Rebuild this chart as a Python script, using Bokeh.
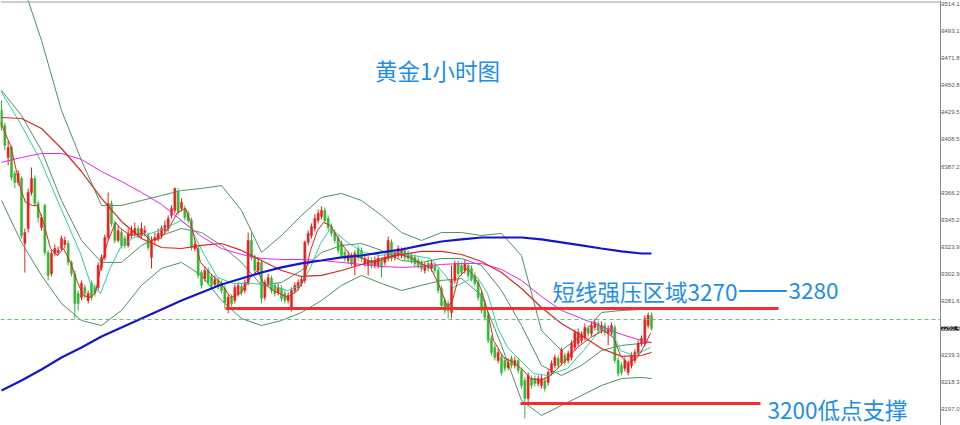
from bokeh.plotting import figure
from bokeh.models import Range1d, Span, Label
from bokeh.core.properties import value
from bokeh.embed import file_html
from bokeh.resources import INLINE

# ---------------- data ----------------
opens = [3431.1,3419.3,3394.3,3402.1,3381.8,3374.7,3377.8,3327.0,3338.7,3366.9,
         3377.8,3358.2,3339.5,3356.7,3319.9,3303.4,3319.1,3319.9,3323.0,3326.2,
         3327.0,3312.1,3303.4,3287.8,3284.7,3292.5,3282.3,3295.6,3292.5,3292.5,
         3308.2,3316.0,3331.6,3358.2,3342.6,3329.3,3335.5,3330.9,3325.4,3333.2,
         3334.8,3338.7,3333.2,3335.5,3333.2,3316.0,3329.3,3330.9,3333.2,3337.1,
         3338.7,3348.9,3352.8,3366.9,3354.4,3354.4,3350.5,3344.9,3323.0,3323.0,
         3304.2,3299.5,3305.8,3301.1,3294.8,3298.0,3295.6,3291.7,3276.8,3284.7,
         3282.3,3287.8,3293.3,3290.1,3296.4,3329.3,3316.0,3305.8,3312.1,3284.7,
         3295.6,3299.5,3294.1,3288.6,3291.7,3287.8,3282.3,3276.8,3290.1,3292.5,
         3295.6,3298.0,3327.8,3333.2,3338.7,3344.9,3348.1,3352.8,3346.5,3340.2,
         3335.5,3330.9,3327.0,3319.9,3313.6,3317.5,3309.7,3323.0,3321.5,3311.3,
         3309.7,3313.6,3309.7,3309.7,3313.6,3312.1,3315.2,3327.8,3316.0,3317.5,
         3317.5,3321.5,3319.1,3317.5,3316.0,3313.6,3311.3,3305.8,3311.3,3307.4,
         3309.7,3305.8,3291.7,3282.3,3279.9,3272.9,3298.0,3311.3,3309.7,3305.8,
         3309.7,3307.4,3301.9,3296.4,3287.8,3279.9,3270.6,3252.6,3245.5,3235.3,
         3237.7,3235.3,3229.8,3236.9,3231.4,3235.3,3227.5,3219.7,3205.6,3221.2,
         3221.2,3217.3,3215.7,3219.7,3218.1,3225.9,3231.4,3236.9,3233.8,3239.2,
         3235.3,3237.7,3245.5,3248.7,3251.0,3253.3,3260.4,3256.5,3261.2,3264.3,
         3258.8,3262.7,3256.5,3257.2,3261.2,3235.3,3231.4,3229.1,3225.9,3231.4,
         3235.3,3241.6,3248.7,3248.7,3262.7,3270.6]
closes = [3417.7,3403.7,3402.1,3378.6,3374.7,3381.8,3333.2,3335.5,3366.9,3377.8,
          3358.2,3347.3,3347.3,3319.9,3301.9,3319.1,3323.0,3321.5,3330.9,3329.3,
          3312.1,3303.4,3279.9,3279.9,3295.6,3287.8,3287.8,3284.7,3287.8,3309.7,
          3316.0,3331.6,3358.2,3342.6,3329.3,3337.1,3325.4,3325.4,3334.8,3337.1,
          3338.7,3333.2,3338.7,3337.1,3323.8,3329.3,3331.6,3334.8,3338.7,3341.0,
          3346.5,3354.4,3370.0,3351.2,3359.1,3347.3,3344.9,3323.8,3326.2,3301.9,
          3294.1,3305.8,3296.4,3294.1,3298.7,3293.3,3290.1,3280.7,3284.7,3279.9,
          3292.5,3294.1,3288.6,3296.4,3329.3,3316.0,3305.8,3312.1,3283.9,3296.4,
          3300.3,3290.1,3287.8,3292.5,3283.9,3282.3,3286.2,3290.1,3294.1,3296.4,
          3298.7,3327.8,3334.8,3340.2,3346.5,3350.5,3352.8,3344.9,3339.5,3334.8,
          3329.3,3321.5,3317.5,3315.2,3317.5,3311.3,3319.1,3316.0,3315.2,3315.2,
          3313.6,3309.7,3313.6,3315.2,3308.2,3316.0,3329.3,3315.2,3319.9,3323.0,
          3321.5,3316.0,3315.2,3313.6,3311.3,3309.7,3307.4,3309.7,3307.4,3311.3,
          3305.8,3290.1,3278.4,3274.5,3274.5,3298.0,3311.3,3303.4,3304.2,3311.3,
          3301.9,3299.5,3295.6,3284.7,3274.5,3269.0,3251.0,3241.6,3237.7,3241.6,
          3225.9,3229.1,3233.8,3231.4,3235.3,3227.5,3215.7,3205.6,3223.6,3215.7,
          3217.3,3221.2,3221.2,3213.4,3225.9,3233.0,3237.7,3231.4,3243.1,3233.8,
          3240.8,3248.7,3257.2,3257.2,3254.9,3261.2,3256.5,3262.7,3265.1,3258.8,
          3262.7,3257.2,3260.4,3262.7,3235.3,3225.1,3225.9,3235.3,3233.0,3239.2,
          3241.6,3248.7,3252.6,3268.2,3270.6,3260.4]
highs = [3438.9,3421.6,3407.6,3403.7,3384.1,3384.1,3379.4,3338.7,3370.0,3386.4,
         3380.2,3360.6,3349.7,3358.2,3321.5,3321.5,3326.2,3324.6,3333.2,3332.4,
         3329.3,3313.6,3305.8,3290.1,3298.0,3294.8,3290.1,3298.0,3294.8,3312.1,
         3318.3,3334.0,3366.9,3360.6,3344.9,3341.0,3337.9,3333.2,3338.7,3341.0,
         3343.4,3341.0,3343.4,3341.0,3335.5,3332.4,3335.5,3338.7,3341.0,3344.9,
         3348.9,3356.7,3370.8,3370.0,3362.2,3356.7,3352.8,3347.3,3329.3,3325.4,
         3305.8,3308.9,3308.2,3303.4,3301.9,3300.3,3298.0,3294.1,3287.0,3287.0,
         3294.8,3296.4,3295.6,3298.7,3335.5,3335.5,3318.3,3315.2,3314.4,3298.7,
         3303.4,3301.9,3296.4,3295.6,3294.1,3290.1,3288.6,3292.5,3296.4,3298.7,
         3301.1,3329.3,3337.1,3342.6,3349.7,3353.6,3356.0,3355.2,3348.9,3342.6,
         3337.9,3333.2,3329.3,3322.2,3320.7,3319.9,3321.5,3325.4,3323.8,3317.5,
         3316.8,3316.0,3316.8,3318.3,3316.0,3319.1,3332.4,3330.1,3322.2,3325.4,
         3323.8,3323.8,3321.5,3319.9,3318.3,3316.0,3313.6,3312.1,3313.6,3313.6,
         3312.1,3308.2,3294.1,3284.7,3282.3,3309.7,3313.6,3313.6,3312.1,3314.4,
         3312.1,3309.7,3304.2,3298.7,3290.1,3282.3,3272.9,3254.9,3247.9,3244.7,
         3240.0,3237.7,3236.9,3239.2,3238.4,3237.7,3229.8,3222.0,3225.9,3223.6,
         3223.6,3223.6,3224.4,3222.0,3228.3,3235.3,3240.0,3239.2,3245.5,3241.6,
         3243.1,3251.0,3259.6,3260.4,3258.0,3264.3,3262.7,3265.9,3268.2,3266.6,
         3265.9,3265.1,3262.7,3265.1,3263.5,3237.7,3233.8,3237.7,3235.3,3241.6,
         3244.0,3251.0,3254.9,3270.6,3272.9,3272.9]
lows = [3415.4,3399.8,3388.0,3376.3,3370.0,3372.3,3330.9,3304.2,3335.5,3364.5,
        3355.9,3343.4,3337.1,3317.5,3298.0,3301.1,3316.8,3317.5,3321.5,3323.0,
        3309.7,3301.1,3268.2,3274.5,3282.3,3283.9,3280.0,3282.3,3285.4,3290.1,
        3305.8,3313.6,3329.3,3340.2,3327.0,3327.8,3323.0,3323.0,3323.8,3330.9,
        3332.4,3330.9,3330.9,3332.4,3321.5,3307.4,3326.2,3328.5,3330.9,3334.8,
        3336.3,3346.5,3350.5,3348.9,3352.0,3344.9,3342.6,3321.5,3320.7,3299.5,
        3291.7,3297.2,3294.1,3291.7,3292.5,3290.9,3287.8,3276.0,3272.1,3277.6,
        3280.0,3285.4,3286.2,3287.8,3294.1,3313.6,3303.4,3303.4,3280.0,3282.3,
        3293.3,3287.8,3285.4,3286.2,3281.5,3280.0,3280.0,3273.7,3287.8,3290.1,
        3293.3,3295.6,3325.4,3330.9,3336.3,3342.6,3345.7,3342.6,3337.1,3332.4,
        3327.0,3319.1,3315.2,3312.8,3311.3,3308.9,3301.9,3313.6,3312.8,3308.9,
        3301.9,3307.4,3307.4,3307.4,3300.3,3309.7,3312.8,3312.8,3313.6,3315.2,
        3315.2,3313.6,3312.8,3311.3,3308.9,3307.4,3305.0,3303.4,3305.0,3305.0,
        3303.4,3287.8,3276.0,3272.1,3268.2,3268.2,3295.6,3301.1,3301.9,3303.4,
        3299.5,3297.2,3293.3,3282.3,3272.1,3266.6,3248.7,3239.2,3235.3,3233.0,
        3223.6,3226.7,3227.5,3229.1,3229.1,3225.1,3213.4,3189.9,3200.1,3213.4,
        3214.9,3214.9,3213.4,3211.0,3215.7,3223.6,3229.1,3229.1,3231.4,3231.4,
        3233.0,3235.3,3243.1,3246.3,3248.7,3251.0,3254.1,3254.1,3258.8,3256.5,
        3256.5,3254.9,3247.1,3254.9,3233.0,3222.8,3223.6,3226.7,3223.6,3229.1,
        3233.0,3239.2,3246.3,3246.3,3260.4,3258.8]

# indicator lines, sampled every 6 bars (bar index -> price)
sample_idx = list(range(0, 193, 6)) + [195]
ma_blue = [3211.8,3219.7,3228.3,3237.7,3245.5,3254.1,3261.2,3268.2,3275.3,3282.3,
           3288.6,3294.8,3299.5,3304.2,3308.2,3311.3,3313.6,3316.0,3317.5,3319.9,
           3322.2,3325.4,3328.5,3330.1,3331.6,3331.6,3331.6,3330.1,3327.8,3325.4,
           3323.0,3320.7,3319.1,3319.1]
ma_magenta = [3390.4,3394.3,3397.4,3397.4,3392.7,3383.3,3375.5,3366.9,3357.5,3344.9,
              3332.4,3323.0,3318.3,3315.2,3314.4,3314.4,3313.6,3312.1,3310.5,3308.9,
              3308.2,3308.9,3310.5,3311.3,3311.3,3306.6,3298.0,3285.4,3274.5,3268.2,
              3261.9,3255.7,3251.0,3249.4]
ma_red_slow = [3425.6,3424.8,3417.0,3401.3,3383.3,3362.2,3344.2,3330.8,3323.8,3323.0,
               3325.4,3326.9,3321.5,3313.6,3305.8,3301.1,3301.9,3305.8,3310.5,3315.2,
               3318.3,3320.7,3320.7,3318.3,3312.8,3304.2,3291.7,3276.8,3264.3,3254.9,
               3244.7,3238.5,3239.2,3241.6]
bb_upper = [3564.2,3532.9,3485.9,3431.1,3391.9,3356.7,3356.7,3360.6,3364.5,3368.4,
            3370.0,3372.3,3352.8,3319.9,3333.2,3348.9,3363.0,3366.1,3360.6,3348.9,
            3335.5,3329.3,3335.5,3335.5,3333.2,3334.8,3317.5,3258.8,3243.1,3254.9,
            3272.9,3274.5,3275.3,3276.8]
bb_middle = [3446.7,3427.2,3399.8,3360.6,3329.3,3312.1,3312.1,3325.4,3333.2,3338.7,
             3335.5,3325.4,3312.1,3294.1,3296.4,3305.8,3319.9,3325.4,3326.9,3321.5,
             3313.6,3312.1,3315.2,3315.2,3309.7,3290.1,3262.7,3231.4,3223.6,3231.4,
             3243.1,3247.1,3248.7,3249.4]
bb_lower = [3360.6,3327.7,3301.9,3279.9,3266.6,3262.7,3274.5,3294.1,3307.4,3312.1,
            3301.9,3282.3,3268.2,3262.7,3266.6,3272.9,3282.3,3294.1,3301.9,3295.6,
            3290.1,3294.1,3298.0,3299.5,3286.2,3247.1,3204.0,3192.3,3200.1,3207.9,
            3215.7,3221.2,3222.0,3221.2]

fast_idx = [-0.3,2.7,5.7,7.2,9.3,10.8,12.6,14.7,16.8,18.6,20.7,22.8,24.6,26.7,28.2,29.7,
            31.8,34.2,35.7,38.7,42.6,44.7,47.7,50.7,52.8,55.2,56.7,58.2,59.7,62.7,65.7,
            68.7,71.7,74.7,76.8,78.6,81.6,85.8,88.8,90.6,92.7,94.8,96.6,98.7,101.7,104.7,
            107.7,111.6,115.8,118.8,122.7,125.7,128.7,131.7,133.8,135.3,137.1,139.8,141.6,
            143.7,145.8,147.6,150.6,153.6,156.6,158.7,161.7,164.7,168.6,172.8,176.7,180.6,
            183.6,185.7,187.8,190.8,192.6,194.7]
ma_red_fast = [3421.7,3403.7,3370.0,3359.0,3356.7,3356.7,3343.4,3323.0,3317.5,3323.0,3312.1,
               3296.4,3286.2,3284.7,3288.6,3307.4,3327.7,3343.4,3338.7,3333.2,3334.8,3329.3,
               3330.8,3341.0,3351.2,3354.4,3343.4,3327.7,3312.1,3303.4,3296.4,3284.7,3287.8,
               3300.3,3305.8,3295.6,3290.1,3284.7,3290.1,3298.0,3321.5,3337.1,3343.4,3341.0,
               3327.7,3317.5,3316.0,3312.1,3315.2,3319.1,3316.0,3311.3,3308.2,3291.7,3276.8,
               3282.3,3300.3,3307.4,3301.9,3292.5,3274.5,3251.0,3237.7,3233.8,3227.5,3221.2,
               3219.7,3223.6,3233.8,3245.5,3253.3,3258.8,3253.3,3239.2,3233.0,3237.7,3245.5,
               3256.5]
cyan_idx = [-0.3,5.7,11.7,17.7,23.7,26.7,29.7,32.7,35.7,39.6,44.7,49.8,53.7,56.7,60.6,64.8,
            69.6,75.6,80.7,85.8,89.7,92.7,95.7,98.7,103.8,108.6,113.7,118.8,123.6,128.7,
            133.2,135.6,139.8,142.8,145.8,148.8,151.8,155.7,159.6,163.8,169.8,174.6,179.7,
            182.7,185.7,189.6,194.7]
ma_cyan = [3446.7,3420.9,3391.9,3355.1,3319.1,3295.6,3287.8,3308.2,3323.8,3331.6,3334.8,
           3339.5,3344.9,3339.5,3319.1,3300.3,3295.6,3295.6,3294.1,3290.1,3294.1,3308.2,
           3326.9,3338.7,3327.7,3319.9,3317.5,3319.9,3317.5,3315.2,3301.9,3292.5,3298.0,
           3300.3,3287.8,3261.2,3245.5,3235.3,3225.1,3223.6,3229.1,3243.1,3259.6,3260.4,
           3243.1,3239.2,3245.5]

tick_values = [3197.0, 3218.3, 3239.3, 3281.6, 3302.9, 3323.9, 3345.2, 3366.2,
               3387.2, 3408.5, 3429.5, 3450.8, 3471.8, 3493.1, 3514.1]
bid_line = 3267.4
resistance_level = 3276.0
resistance_span = [67.2, 233.1]
support_level = 3201.6
support_span = [155.7, 227.7]

title_text = "黄金1小时图"
resistance_parts = ["短线强压区域3270", "——", "3280"]
resistance_x = [165.3, 220.9, 236.1]
support_text = "3200低点支撑"

# ---------------- figure ----------------
X0, X1 = -0.3, 287.7
Y0, Y1 = 3184.4, 3517.2
AXIS_X = 281.7
p = figure(width=960, height=425, output_backend="svg", toolbar_location=None,
           x_range=Range1d(X0, X1), y_range=Range1d(Y0, Y1),
           x_axis_location=None, y_axis_location=None,
           min_border_left=0, min_border_right=0, min_border_top=0, min_border_bottom=0)
p.outline_line_color = None
p.xgrid.visible = False
p.ygrid.visible = False
p.background_fill_color = "white"
p.border_fill_color = "white"

UP = "#e8201c"
DOWN = "#34b834"
idx = list(range(len(closes)))
colors = [UP if c >= o else DOWN for o, c in zip(opens, closes)]
tops = [max(o, c) for o, c in zip(opens, closes)]
bots = [min(o, c) for o, c in zip(opens, closes)]

# bands
BAND = "#4d9163"
for arr in (bb_upper, bb_middle, bb_lower):
    p.line(sample_idx, arr, line_color=BAND, line_width=1)

# candles
p.segment(x0=idx, y0=lows, x1=idx, y1=highs, line_color=colors, line_width=1)
p.vbar(x=idx, top=tops, bottom=bots, width=0.62, fill_color=colors, line_color=colors, line_width=0.5)

# moving averages
p.line(cyan_idx, ma_cyan, line_color="#22d69e", line_width=1)
p.line(sample_idx, ma_magenta, line_color="#ee22ee", line_width=1)
p.line(sample_idx, ma_red_slow, line_color="#e02424", line_width=1.2)
p.line(fast_idx, ma_red_fast, line_color="#e02424", line_width=1)
p.line(sample_idx, ma_blue, line_color="#1616c8", line_width=2.2)

# bid dashed line
p.line([X0, AXIS_X], [bid_line, bid_line], line_color="#6fbf6f", line_width=1, line_dash="4 3")

# support / resistance
p.line(resistance_span, [resistance_level] * 2, line_color="#f03030", line_width=3)
p.line(support_span, [support_level] * 2, line_color="#f03030", line_width=3)

TXT = "#1e8fe3"
FONT = value("Noto Sans CJK SC")
p.text(x=[130.8], y=[3462.4], text=[title_text], text_font=FONT, text_font_size="22.5px",
       text_color=TXT, text_align="center", text_baseline="middle")
p.text(x=resistance_x[:1] + resistance_x[2:], y=[3290.1, 3290.1],
       text=[resistance_parts[0], resistance_parts[2]], text_font=FONT, text_font_size="22.5px",
       text_color=TXT, text_align="left", text_baseline="middle")
p.text(x=[resistance_x[1]], y=[3290.1], text=[resistance_parts[1]], text_font=FONT,
       text_font_size="30px", text_color=TXT, text_align="left", text_baseline="middle",
       y_offset=-5)
p.text(x=[229.8], y=[3197.0], text=[support_text], text_font=FONT, text_font_size="22.5px",
       text_color=TXT, text_align="left", text_baseline="middle")

# frame top line and right price scale
p.line([X0, AXIS_X], [Y1 - 1.2, Y1 - 1.2], line_color="#9a9a9a", line_width=1)
p.add_layout(Span(location=AXIS_X, dimension="height", line_color="#8a8a8a", line_width=1))
p.segment(x0=[AXIS_X] * len(tick_values), y0=tick_values, x1=[AXIS_X + 0.6] * len(tick_values),
          y1=tick_values, line_color="#8a8a8a", line_width=1)
p.text(x=[X1] * len(tick_values), y=tick_values, text=[f"{v:.1f}" for v in tick_values],
       x_offset=-1, text_font=value("Liberation Sans"), text_font_size="6px", text_color="#555555",
       text_align="right", text_baseline="middle")
p.add_layout(Label(x=X1, y=closes[-1], x_offset=-1, text=f"{closes[-1]:.1f}",
                   text_font_size="6px", text_color="white", text_baseline="middle",
                   text_align="right", background_fill_color="black",
                   text_font="Liberation Sans"))

open("out.html", "w").write(file_html(p, INLINE))
